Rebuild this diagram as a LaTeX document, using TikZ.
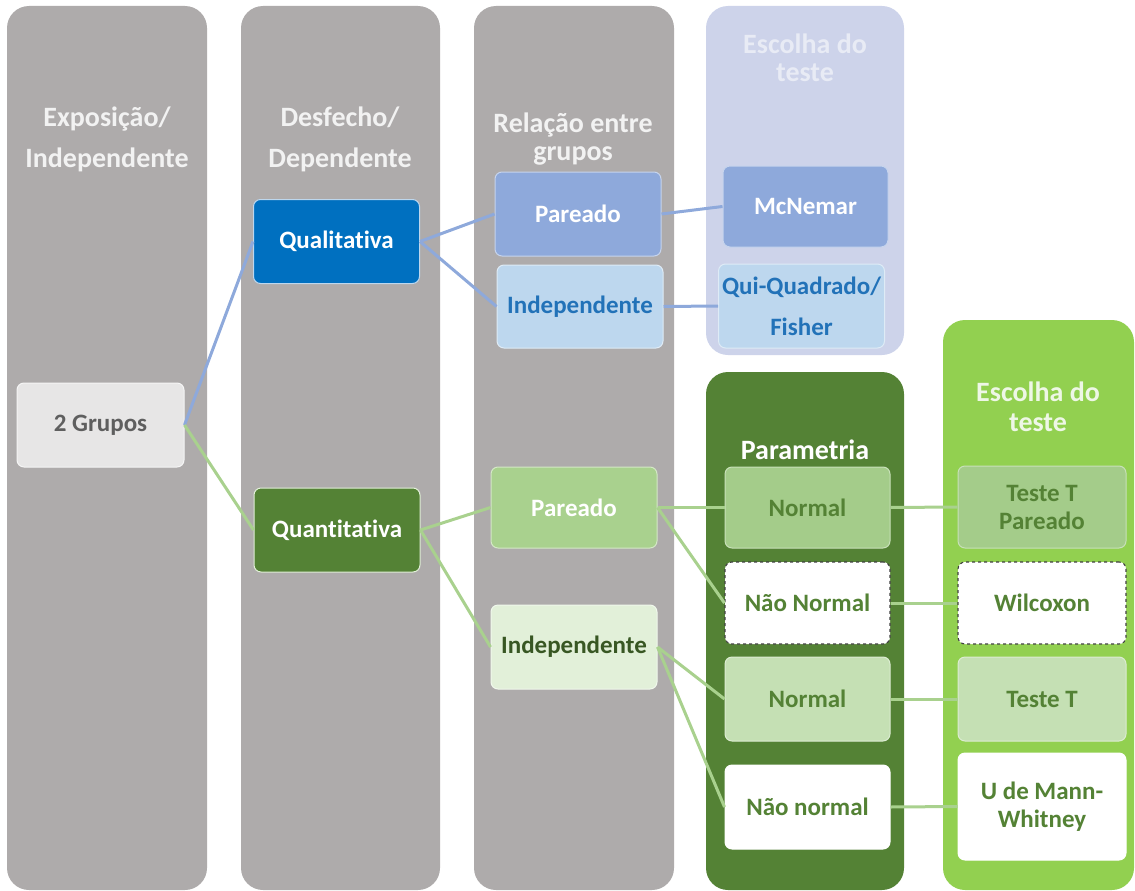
\documentclass[tikz,border=0pt]{standalone}
\usepackage{fontspec}
\setmainfont{Carlito}[Ligatures=NoCommon]
\definecolor{colgray}{HTML}{AEABAB}
\definecolor{hdrtext}{HTML}{F2F2F2}
\definecolor{collav}{HTML}{CDD3EA}
\definecolor{lavtext}{HTML}{E8EBF5}
\definecolor{coldkgreen}{HTML}{548235}
\definecolor{collgreen}{HTML}{92D050}
\definecolor{lgreentext}{HTML}{EEF7E6}
\definecolor{grupofill}{HTML}{E7E6E6}
\definecolor{grupotext}{HTML}{5F5F5F}
\definecolor{qualblue}{HTML}{0070C0}
\definecolor{midblue}{HTML}{8EA9DB}
\definecolor{paleblue}{HTML}{BDD7EE}
\definecolor{bluetext}{HTML}{2272B8}
\definecolor{midgreen}{HTML}{A9D18E}
\definecolor{palegreen}{HTML}{E2F0D9}
\definecolor{normfill}{HTML}{A4CC8A}
\definecolor{softgreen}{HTML}{C5E0B4}
\definecolor{greentext}{HTML}{548235}
\definecolor{deepgreen}{HTML}{385723}
\begin{document}
\begin{tikzpicture}[x=1pt,y=-1pt,
  box/.style={rectangle, rounded corners=7pt, minimum width=166pt, minimum height=84pt,
    align=center, inner sep=2pt, line width=1pt,
    font=\fontsize{25}{28}\selectfont\bfseries},
  hdr/.style={align=center, inner sep=0pt, font=\fontsize{28}{41}\selectfont\bfseries, text=hdrtext},
  dashbox/.style={box, fill=white, draw=black!75, dashed, line width=1.1pt, text=greentext},
  bluelink/.style={draw=midblue, line width=3pt},
  greenlink/.style={draw=midgreen, line width=3pt}]

\useasboundingbox (0,0) rectangle (1135,891);

% column backgrounds
\fill[colgray, rounded corners=22pt] (7,6) rectangle (207,890);
\fill[colgray, rounded corners=22pt] (241,6) rectangle (440,890);
\fill[colgray, rounded corners=22pt] (474,6) rectangle (674,890);
\fill[collav, rounded corners=22pt] (706,6) rectangle (904,355);
\fill[coldkgreen, rounded corners=22pt] (706,372) rectangle (904,890);
\fill[collgreen, rounded corners=22pt] (943,320) rectangle (1134,890);

% column headings
\node[hdr] (h1) at (107,139) {Exposição/\\Independente};
\node[hdr] (h2) at (340,139) {Desfecho/\\Dependente};
\node[hdr, font=\fontsize{28}{28}\selectfont\bfseries] (h3) at (573,139) {Relação entre\\grupos};
\node[hdr, font=\fontsize{28}{28}\selectfont\bfseries, text=lavtext] (h4) at (805,58) {Escolha do\\teste};
\node[hdr, text=white] (h5) at (805,450) {Parametria};
\node[hdr, font=\fontsize{28}{30}\selectfont\bfseries, text=lgreentext] (h6) at (1038,407) {Escolha do\\teste};

% boxes
\node[box, fill=grupofill, draw=white!60!grupofill, text=grupotext, minimum width=167pt] (g2) at (100.5,425) {2 Grupos};

\node[box, fill=qualblue, draw=paleblue, text=white] (qual) at (336.5,241.5) {Qualitativa};
\node[box, fill=coldkgreen, draw=palegreen, text=white] (quant) at (337,530) {Quantitativa};

\node[box, fill=midblue, draw=white!50!midblue, text=white] (bpar) at (578,214) {Pareado};
\node[box, fill=paleblue, draw=white!50!paleblue, text=bluetext, minimum height=83pt] (bind) at (580,306.5) {Independente};
\node[box, fill=midblue, draw=white!50!midblue, text=white, minimum width=165pt, minimum height=81pt] (mcn) at (805.5,206.5) {McNemar};
\node[box, fill=paleblue, draw=white!50!paleblue, text=bluetext, font=\fontsize{25}{41}\selectfont\bfseries] (qui) at (801.5,306) {Qui-Quadrado/\\Fisher};

\node[box, fill=midgreen, draw=white!50!midgreen, text=white, minimum height=81pt] (gpar) at (574,507.5) {Pareado};
\node[box, fill=palegreen, draw=white!50!palegreen, text=deepgreen] (gind) at (574,647) {Independente};

\node[box, fill=normfill, draw=white!40!normfill, text=greentext, minimum width=165pt, minimum height=81pt] (n1) at (807.5,507.5) {Normal};
\node[dashbox, minimum width=165pt, minimum height=82pt] (nn1) at (807.5,603) {Não Normal};
\node[box, fill=softgreen, draw=white!40!softgreen, text=greentext, minimum width=165pt] (n2) at (807.5,699) {Normal};
\node[box, fill=white, draw=white, text=greentext, minimum width=165pt] (nn2) at (807.5,807) {Não normal};

\node[box, fill=normfill, draw=white!40!normfill, text=greentext, minimum width=168pt, minimum height=82pt] (ttp) at (1042,507) {Teste T\\Pareado};
\node[dashbox, minimum width=168pt, minimum height=82pt] (wil) at (1042,603) {Wilcoxon};
\node[box, fill=softgreen, draw=white!40!softgreen, text=greentext, minimum width=168pt] (tt) at (1042,699) {Teste T};
\node[box, fill=white, draw=white, text=greentext, minimum width=168pt, minimum height=107pt] (umw) at (1042,806.5) {U de Mann-\\Whitney};

% connectors
\draw[bluelink] (g2.east) -- (qual.west);
\draw[greenlink] (g2.east) -- (quant.west);
\draw[bluelink] (qual.east) -- (bpar.west);
\draw[bluelink] (qual.east) -- (bind.west);
\draw[bluelink] (bpar.east) -- (mcn.west);
\draw[bluelink] (bind.east) -- (qui.west);
\draw[greenlink] (quant.east) -- (gpar.west);
\draw[greenlink] (quant.east) -- (gind.west);
\draw[greenlink] (gpar.east) -- (n1.west);
\draw[greenlink] (gpar.east) -- (nn1.west);
\draw[greenlink] (gind.east) -- (n2.west);
\draw[greenlink] (gind.east) -- (nn2.west);
\draw[greenlink] (n1.east) -- (ttp.west);
\draw[greenlink] (nn1.east) -- (wil.west);
\draw[greenlink] (n2.east) -- (tt.west);
\draw[greenlink] (nn2.east) -- (umw.west);
\end{tikzpicture}
\end{document}
